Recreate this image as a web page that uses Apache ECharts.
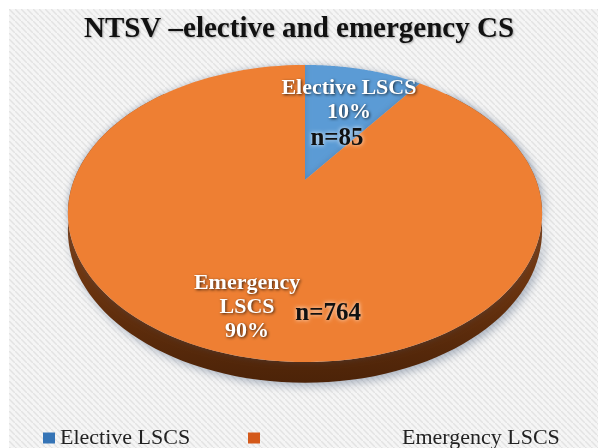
<!DOCTYPE html>
<html>
<head>
<meta charset="utf-8">
<script src="https://cdn.jsdelivr.net/npm/echarts@6/dist/echarts.min.js"></script>
<style>
html, body { margin: 0; padding: 0; background: #fff; }
#chart { width: 598px; height: 448px; }
</style>
</head>
<body>
<div id="chart"></div>
<script>
// data
const categories = ['Elective LSCS', 'Emergency LSCS'];
const counts = [85, 764];
const labelNames = ['Elective LSCS', 'Emergency\nLSCS'];

// styles
const sliceColors = ['#5B9BD5', '#EE7F33'];
const sideColors = [['#3f6f9c', '#1f3a55'], ['#a4531c', '#4c2308']];
const legendColors = ['#3574b6', '#d4591a'];
const labelRadius = [0.69, 0.78];
const labelOffsets = [[1, 1], [9, 2]];
const countOffsets = [[-11, 39], [90, 8]];

const total = counts.reduce((a, b) => a + b, 0);

// tilted disc, seen in perspective
const cx = 305, cy = 180, RX = 231, RY = 141, K = 0.2256, DEPTH = 16;
function proj(theta, r) {
  const u = Math.sin(theta) * r, v = -Math.cos(theta) * r;
  const w = 1 - K * v;
  return [cx + RX * u / w, cy + RY * v / w];
}

function renderSlice(params, api) {
  const i = api.value(0);
  let before = 0;
  for (let j = 0; j < i; j++) before += counts[j];
  const a0 = before / total * Math.PI * 2;
  const a1 = (before + counts[i]) / total * Math.PI * 2;
  const children = [];

  // side wall, front part only
  const s0 = Math.max(a0, Math.PI / 4), s1 = Math.min(a1, Math.PI * 7 / 4);
  if (s1 > s0) {
    const upper = [], lower = [];
    for (let s = 0; s <= 120; s++) {
      const t = s0 + (s1 - s0) * s / 120;
      const p = proj(t, 1);
      const w = 1 + K * Math.cos(t);
      upper.push(p);
      lower.push([p[0], p[1] + DEPTH / w]);
    }
    children.push({
      type: 'polygon', z2: 1,
      shape: { points: upper.concat(lower.reverse()) },
      style: {
        fill: new echarts.graphic.LinearGradient(0, 0, 0, 1, [
          { offset: 0, color: sideColors[i][0] },
          { offset: 1, color: sideColors[i][1] }
        ]),
        shadowBlur: 10, shadowColor: 'rgba(70,90,120,0.45)', shadowOffsetX: 3, shadowOffsetY: 3
      }
    });
  }

  // top face
  const top = [[cx, cy]];
  for (let s = 0; s <= 120; s++) top.push(proj(a0 + (a1 - a0) * s / 120, 1));
  children.push({
    type: 'polygon', z2: 5,
    shape: { points: top },
    style: { fill: sliceColors[i], shadowBlur: 6, shadowColor: 'rgba(70,90,120,0.35)' }
  });

  // labels
  const mid = (a0 + a1) / 2;
  const lp = proj(mid, labelRadius[i]);
  const pct = Math.round(counts[i] / total * 100);
  children.push({
    type: 'text', z2: 10, x: lp[0] + labelOffsets[i][0], y: lp[1] + labelOffsets[i][1],
    style: {
      text: labelNames[i] + '\n' + pct + '%',
      align: 'center', verticalAlign: 'middle',
      fill: '#ffffff', fontFamily: 'Liberation Serif', fontWeight: 'bold', fontSize: 22, lineHeight: 24,
      textShadowColor: 'rgba(0,0,0,0.75)', textShadowBlur: 3, textShadowOffsetX: 1, textShadowOffsetY: 1
    }
  });
  children.push({
    type: 'text', z2: 10, x: lp[0] + countOffsets[i][0], y: lp[1] + countOffsets[i][1],
    style: {
      text: 'n=' + counts[i],
      align: 'center', verticalAlign: 'middle',
      fill: '#111111', fontFamily: 'Liberation Serif', fontWeight: 'bold', fontSize: 25,
      textShadowColor: 'rgba(255,255,255,0.9)', textShadowBlur: 4
    }
  });
  return { type: 'group', children: children };
}

// striped backdrop
const pat = document.createElement('canvas');
pat.width = 6; pat.height = 6;
const g = pat.getContext('2d');
g.fillStyle = '#f5f5f5'; g.fillRect(0, 0, 6, 6);
g.strokeStyle = '#e3e3e3'; g.lineWidth = 1.5;
g.beginPath(); g.moveTo(-1, -1); g.lineTo(7, 7); g.stroke();

const legendText = { fontFamily: 'Liberation Serif', fontSize: 22, color: '#222222' };

const chart = echarts.init(document.getElementById('chart'));
chart.setOption({
  animation: false,
  graphic: [{
    type: 'rect', left: 9, top: 9, z: -10, silent: true,
    shape: { width: 589, height: 439 },
    style: { fill: { image: pat, repeat: 'repeat' } }
  }],
  title: {
    text: 'NTSV \u2013elective and emergency CS',
    left: 'center', top: 10,
    textStyle: {
      fontFamily: 'Liberation Serif', fontWeight: 'bold', fontSize: 29, color: '#111111',
      textShadowColor: 'rgba(0,0,0,0.3)', textShadowBlur: 2, textShadowOffsetX: 1, textShadowOffsetY: 1
    }
  },
  legend: [
    {
      data: [{ name: categories[0], itemStyle: { color: legendColors[0] } }],
      left: 43, top: 427, padding: 0, icon: 'rect', itemWidth: 12, itemHeight: 11,
      selectedMode: false, textStyle: legendText
    },
    {
      data: [{ name: categories[1], itemStyle: { color: legendColors[1] } }],
      left: 248, top: 427, padding: 0, icon: 'rect', itemWidth: 12, itemHeight: 11,
      selectedMode: false, textStyle: Object.assign({ padding: [0, 0, 0, 137] }, legendText)
    }
  ],
  series: categories.map((name, i) => ({
    type: 'custom',
    name: name,
    coordinateSystem: 'none',
    silent: true,
    itemStyle: { color: legendColors[i] },
    renderItem: renderSlice,
    data: [[i]]
  }))
});
</script>
</body>
</html>
